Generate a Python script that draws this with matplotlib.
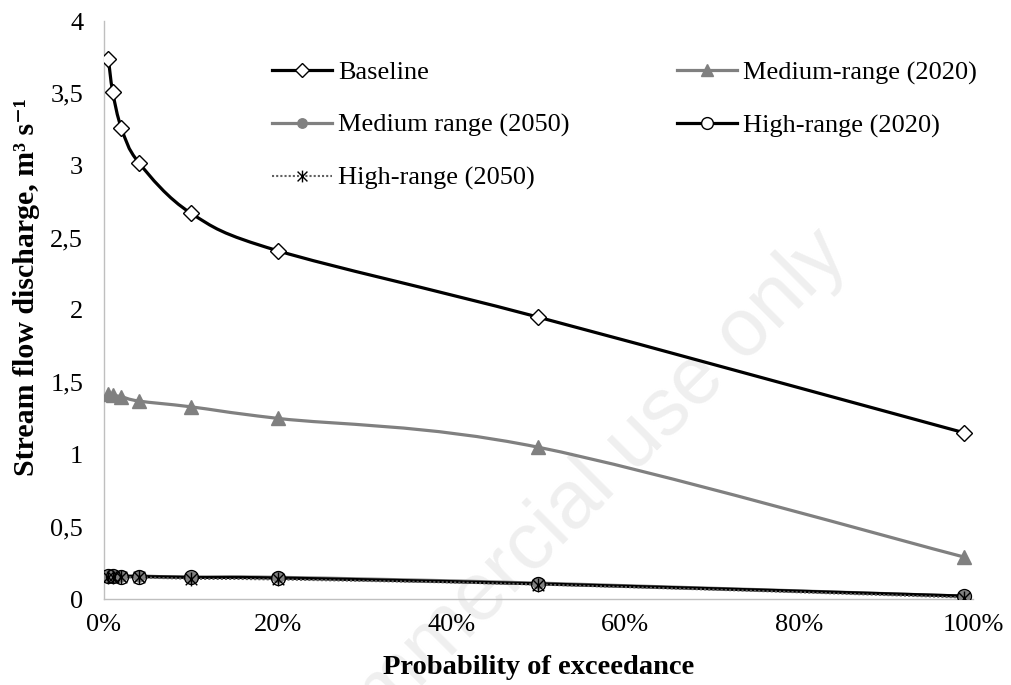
import matplotlib
matplotlib.use("Agg")
import matplotlib.pyplot as plt
import numpy as np
from matplotlib.path import Path
from matplotlib.patches import PathPatch
from matplotlib.lines import Line2D
from matplotlib.ticker import FuncFormatter

plt.rcParams['font.family'] = ['Liberation Serif', 'DejaVu Serif']

# probability of exceedance (fraction)
prob = [0.005, 0.01, 0.02, 0.04, 0.10, 0.20, 0.50, 0.99]

# stream flow discharge, m3/s
baseline = [3.74, 3.51, 3.26, 3.02, 2.67, 2.41, 1.95, 1.15]
medium_2020 = [1.42, 1.41, 1.40, 1.37, 1.33, 1.25, 1.05, 0.29]
medium_2050 = [0.16, 0.16, 0.16, 0.16, 0.15, 0.15, 0.11, 0.02]
high_2020 = [0.16, 0.16, 0.155, 0.155, 0.15, 0.145, 0.105, 0.02]
high_2050 = [0.15, 0.15, 0.15, 0.15, 0.14, 0.135, 0.10, 0.01]

labels = ["Baseline", "Medium-range (2020)", "Medium range (2050)",
          "High-range (2020)", "High-range (2050)"]

W, H = 1012, 685


def smooth_path(xs, ys):
    # Excel-like smoothed line: Catmull-Rom style cubic Bezier segments
    pts = np.column_stack([xs, ys]).astype(float)
    n = len(pts)
    verts = [pts[0]]
    codes = [Path.MOVETO]
    for i in range(n - 1):
        p0 = pts[max(i - 1, 0)]
        p1 = pts[i]
        p2 = pts[i + 1]
        p3 = pts[min(i + 2, n - 1)]
        verts += [p1 + (p2 - p0) / 6, p2 - (p3 - p1) / 6, p2]
        codes += [Path.CURVE4] * 3
    return Path(verts, codes)


# asterisk marker (x with a vertical bar)
star = Path([(-1, -1), (1, 1), (-1, 1), (1, -1), (0, -1.2), (0, 1.2)],
            [Path.MOVETO, Path.LINETO] * 3)

grey = '#808080'
styles = [
    dict(color='black', lw=2.3, ls='-', marker='D', ms=8.5, mfc='white', mec='black', mew=1.0),
    dict(color=grey, lw=2.3, ls='-', marker='^', ms=10.5, mfc=grey, mec=grey, mew=1.0),
    dict(color=grey, lw=2.3, ls='-', marker='o', ms=8, mfc=grey, mec=grey, mew=1.0),
    dict(color='black', lw=2.3, ls='-', marker='o', ms=10, mfc='none', mec='black', mew=1.0),
    dict(color='#606060', lw=1.5, ls=(0, (1, 1)), marker=star, ms=10, mfc='none', mec='black', mew=1.0),
]
series = [baseline, medium_2020, medium_2050, high_2020, high_2050]

fig = plt.figure(figsize=(W / 100, H / 100), dpi=100)
ax = fig.add_axes([104 / W, 1 - 599 / H, (973 - 104) / W, (599 - 21) / H])
ax.patch.set_alpha(0)

# watermark, behind everything else
ax.text(850 / W, 1 - 258 / H, "Non-commercial use only", transform=fig.transFigure,
        family='Liberation Sans', fontsize=59, color='#efefef', rotation=45,
        rotation_mode='anchor', ha='right', va='baseline', zorder=0, clip_on=False)

handles = []
for ys, st in zip(series, styles):
    ax.add_patch(PathPatch(smooth_path(prob, ys), fill=False, edgecolor=st['color'],
                           lw=st['lw'], ls=st['ls'], zorder=2))
    ax.plot(prob, ys, ls='none', marker=st['marker'], ms=st['ms'], mfc=st['mfc'],
            mec=st['mec'], mew=st['mew'], zorder=3)
    handles.append(Line2D([], [], color=st['color'], lw=st['lw'], ls=st['ls'],
                          marker=st['marker'], ms=st['ms'] * 0.85,
                          mfc=st['mfc'] if st['mfc'] != 'none' else 'white',
                          mec=st['mec'], mew=st['mew']))

ax.set_xlim(0, 1)
ax.set_ylim(0, 4)
ax.set_xticks(np.arange(0, 1.01, 0.2))
ax.set_yticks(np.arange(0, 4.01, 0.5))
ax.xaxis.set_major_formatter(FuncFormatter(lambda v, p: f"{v * 100:.0f}%"))
ax.yaxis.set_major_formatter(FuncFormatter(lambda v, p: f"{v:g}".replace('.', ',')))
ax.tick_params(axis='both', length=0, labelsize=19)
ax.tick_params(axis='x', pad=11)
ax.tick_params(axis='y', pad=15)

for s in ['top', 'right']:
    ax.spines[s].set_visible(False)
for s in ['left', 'bottom']:
    ax.spines[s].set_color('#bfbfbf')
    ax.spines[s].set_linewidth(1.0)

ax.set_xlabel("Probability of exceedance", fontsize=20.5, fontweight='bold')
ax.xaxis.label.set_verticalalignment('center')
ax.xaxis.set_label_coords(0.5, (599 - 668) / 578)
ax.set_ylabel("Stream flow discharge, m\u00b3 s\u207b\u00b9", fontsize=21.5, fontweight='bold')
ax.yaxis.label.set_verticalalignment('center')
ax.yaxis.set_label_coords((27 - 104) / 869, 0.54)

# column-first order so rows read Baseline | Medium-range (2020) ...
order = [0, 2, 4, 1, 3]
ax.legend([handles[i] for i in order], [labels[i] for i in order], ncol=2,
          loc='upper left', bbox_to_anchor=(272 / W, 1 - 61 / H),
          bbox_transform=fig.transFigure, frameon=False, fontsize=19,
          handlelength=2.27, handletextpad=0.25, columnspacing=4.05,
          labelspacing=1.1, borderpad=0, borderaxespad=0)

fig.savefig("out.png", dpi=100)
